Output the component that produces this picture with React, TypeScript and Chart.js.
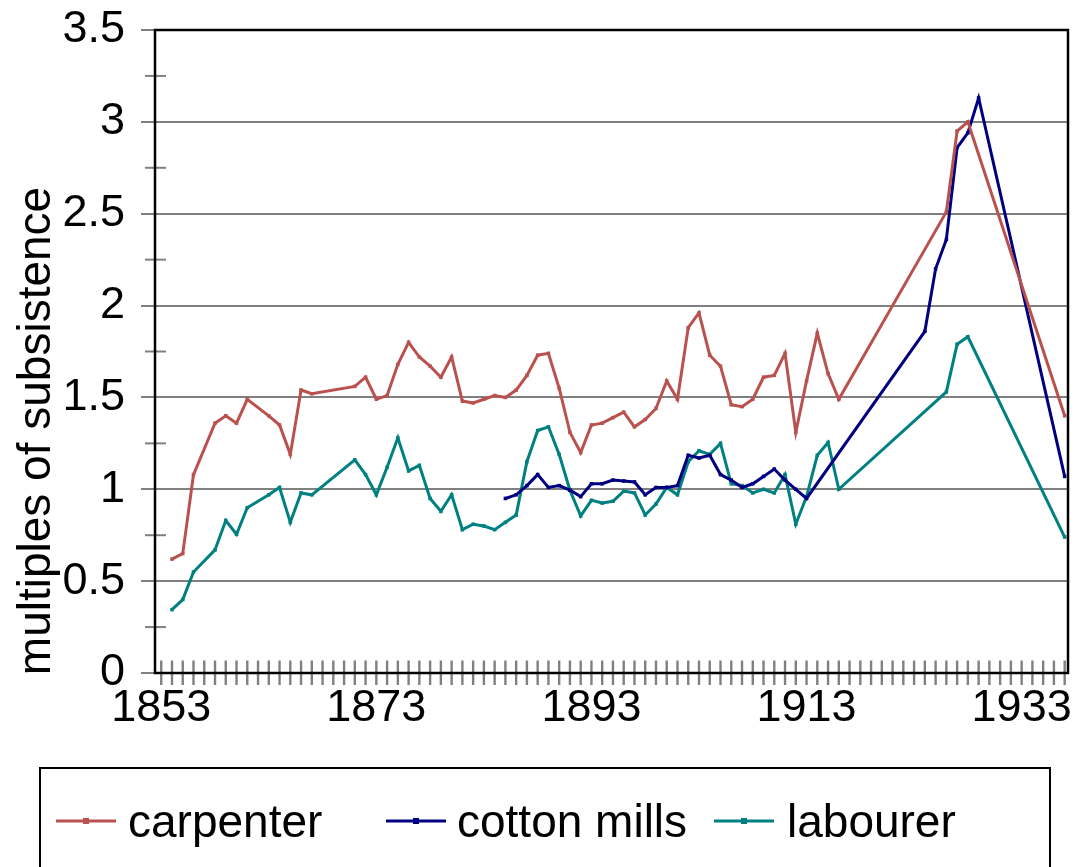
import React, { useEffect, useRef } from 'react';
import { Chart, registerables } from 'chart.js';

Chart.register(...registerables);

const carpenterYears = [1854, 1855, 1856, 1858, 1859, 1860, 1861, 1863, 1864, 1865, 1866, 1867, 1871, 1872, 1873, 1874, 1875, 1876, 1877, 1878, 1879, 1880, 1881, 1882, 1883, 1884, 1885, 1886, 1887, 1888, 1889, 1890, 1891, 1892, 1893, 1894, 1895, 1896, 1897, 1898, 1899, 1900, 1901, 1902, 1903, 1904, 1905, 1906, 1907, 1908, 1909, 1910, 1911, 1912, 1913, 1914, 1915, 1916, 1926, 1927, 1928, 1937];
const carpenterValues = [0.62, 0.65, 1.08, 1.36, 1.40, 1.36, 1.49, 1.40, 1.35, 1.19, 1.54, 1.52, 1.56, 1.61, 1.49, 1.51, 1.68, 1.80, 1.72, 1.67, 1.61, 1.72, 1.48, 1.47, 1.49, 1.51, 1.50, 1.54, 1.62, 1.73, 1.74, 1.55, 1.31, 1.20, 1.35, 1.36, 1.39, 1.42, 1.34, 1.38, 1.44, 1.59, 1.49, 1.88, 1.96, 1.73, 1.67, 1.46, 1.45, 1.49, 1.61, 1.62, 1.74, 1.31, 1.59, 1.85, 1.63, 1.49, 2.51, 2.95, 3.00, 1.40];

const cottonYears = [1885, 1886, 1887, 1888, 1889, 1890, 1891, 1892, 1893, 1894, 1895, 1896, 1897, 1898, 1899, 1900, 1901, 1902, 1903, 1904, 1905, 1906, 1907, 1908, 1909, 1910, 1911, 1912, 1913, 1924, 1925, 1926, 1927, 1928, 1929, 1937];
const cottonValues = [0.95, 0.97, 1.02, 1.08, 1.01, 1.02, 0.995, 0.96, 1.03, 1.03, 1.05, 1.045, 1.04, 0.97, 1.01, 1.01, 1.02, 1.185, 1.17, 1.185, 1.08, 1.05, 1.01, 1.03, 1.07, 1.11, 1.05, 1.00, 0.95, 1.86, 2.20, 2.36, 2.86, 2.94, 3.13, 1.07];

const labourerYears = [1854, 1855, 1856, 1858, 1859, 1860, 1861, 1863, 1864, 1865, 1866, 1867, 1871, 1872, 1873, 1874, 1875, 1876, 1877, 1878, 1879, 1880, 1881, 1882, 1883, 1884, 1885, 1886, 1887, 1888, 1889, 1890, 1891, 1892, 1893, 1894, 1895, 1896, 1897, 1898, 1899, 1900, 1901, 1902, 1903, 1904, 1905, 1906, 1907, 1908, 1909, 1910, 1911, 1912, 1913, 1914, 1915, 1916, 1926, 1927, 1928, 1937];
const labourerValues = [0.345, 0.40, 0.55, 0.67, 0.83, 0.755, 0.90, 0.97, 1.01, 0.82, 0.98, 0.97, 1.16, 1.08, 0.97, 1.12, 1.28, 1.10, 1.13, 0.95, 0.88, 0.97, 0.78, 0.81, 0.80, 0.78, 0.82, 0.86, 1.15, 1.32, 1.34, 1.19, 0.995, 0.855, 0.94, 0.925, 0.935, 0.99, 0.98, 0.86, 0.92, 1.01, 0.97, 1.15, 1.21, 1.19, 1.25, 1.03, 1.02, 0.98, 1.00, 0.98, 1.08, 0.81, 0.96, 1.185, 1.255, 1.00, 1.53, 1.79, 1.83, 0.74];

const seriesNames = ['carpenter', 'cotton mills', 'labourer'];
const seriesColors = ['#B9524F', '#000080', '#008080'];

const firstTickYear = 1853;
const lastTickYear = 1937;
const xLabelYears = [1853, 1873, 1893, 1913, 1933];
const yMinorTicks = [0.25, 0.75, 1.25, 1.75, 2.25, 2.75, 3.25];
const yTitle = 'multiples of subsistence';

const FONT = "'Liberation Sans', Arial, sans-serif";

export default function App() {
  const ref = useRef<HTMLCanvasElement>(null);

  useEffect(() => {
    if (!ref.current) return;
    const toPts = (ys: number[], vs: number[]) => ys.map((x, i) => ({ x, y: vs[i] }));
    const tickYears: number[] = [];
    for (let y = firstTickYear; y <= lastTickYear; y++) tickYears.push(y);

    const decor = {
      id: 'decor',
      beforeDatasetsDraw(chart: any) {
        const ctx = chart.ctx;
        const xs = chart.scales.x;
        const ys = chart.scales.y;
        const a = chart.chartArea;
        ctx.save();
        ctx.strokeStyle = '#808080';
        ctx.lineWidth = 2.4;
        tickYears.forEach((yr) => {
          const px = xs.getPixelForValue(yr);
          ctx.beginPath();
          ctx.moveTo(px, a.bottom - 12.5);
          ctx.lineTo(px, a.bottom + 12);
          ctx.stroke();
        });
        ctx.lineWidth = 2;
        yMinorTicks.forEach((v) => {
          const py = ys.getPixelForValue(v);
          ctx.beginPath();
          ctx.moveTo(a.left - 10, py);
          ctx.lineTo(a.left + 11, py);
          ctx.stroke();
        });
        ctx.restore();
      },
      afterDatasetsDraw(chart: any) {
        const ctx = chart.ctx;
        const a = chart.chartArea;
        ctx.save();
        ctx.strokeStyle = '#000';
        ctx.lineWidth = 2.5;
        ctx.strokeRect(a.left, a.top, a.right - a.left, a.bottom - a.top);
        ctx.restore();
      },
      afterDraw(chart: any) {
        const ctx = chart.ctx;
        ctx.save();
        ctx.translate(50, 431);
        ctx.rotate(-Math.PI / 2);
        ctx.fillStyle = '#000';
        ctx.font = `46px ${FONT}`;
        ctx.textAlign = 'center';
        ctx.textBaseline = 'alphabetic';
        ctx.fillText(yTitle, 0, 0);
        ctx.restore();

        ctx.save();
        ctx.strokeStyle = '#000';
        ctx.lineWidth = 2;
        ctx.strokeRect(40, 768, 1010, 150);
        const lineStarts = [56, 386, 714];
        const textStarts = [128, 457, 787];
        const ly = 821;
        ctx.font = `46px ${FONT}`;
        ctx.textAlign = 'left';
        ctx.textBaseline = 'alphabetic';
        seriesNames.forEach((name, i) => {
          ctx.strokeStyle = seriesColors[i];
          ctx.lineWidth = 3;
          ctx.beginPath();
          ctx.moveTo(lineStarts[i], ly);
          ctx.lineTo(lineStarts[i] + 60, ly);
          ctx.stroke();
          ctx.fillStyle = seriesColors[i];
          ctx.fillRect(lineStarts[i] + 27, ly - 3, 6, 6);
          ctx.fillStyle = '#000';
          ctx.fillText(name, textStarts[i], ly + 16);
        });
        ctx.restore();
      },
    };

    const mk = (i: number, ys: number[], vs: number[]) => ({
      label: seriesNames[i],
      data: toPts(ys, vs),
      borderColor: seriesColors[i],
      backgroundColor: seriesColors[i],
      borderWidth: 3,
      pointStyle: 'rect',
      pointRadius: 2.5,
      pointBorderWidth: 0,
      pointBackgroundColor: seriesColors[i],
      tension: 0,
      fill: false,
    });

    const chart = new Chart(ref.current, {
      type: 'line',
      data: {
        datasets: [
          mk(0, carpenterYears, carpenterValues),
          mk(1, cottonYears, cottonValues),
          mk(2, labourerYears, labourerValues),
        ] as any,
      },
      options: {
        animation: false,
        responsive: false,
        maintainAspectRatio: false,
        events: [],
        layout: { padding: { left: 0, right: 11, top: 30, bottom: 0 } },
        plugins: { legend: { display: false }, tooltip: { enabled: false } },
        scales: {
          x: {
            type: 'linear',
            min: 1852.42,
            max: 1937.31,
            afterBuildTicks: (s: any) => {
              s.ticks = tickYears.map((v) => ({ value: v }));
            },
            afterFit: (s: any) => {
              s.height = 194;
              s.paddingLeft = 0;
              s.paddingRight = 0;
            },
            grid: { display: false, drawTicks: false },
            border: { display: false },
            ticks: {
              autoSkip: false,
              maxRotation: 0,
              minRotation: 0,
              padding: 9,
              color: '#000',
              font: { size: 45, family: FONT },
              callback: (v: any) => (xLabelYears.includes(Number(v)) ? String(v) : ''),
            },
          },
          y: {
            min: 0,
            max: 3.5,
            afterFit: (s: any) => {
              s.width = 155;
              s.paddingTop = 0;
              s.paddingBottom = 0;
            },
            ticks: {
              stepSize: 0.5,
              padding: 16,
              color: '#000',
              font: { size: 45, family: FONT },
              callback: (v: any) => String(Number(v)),
            },
            grid: { color: '#808080', lineWidth: 2, tickLength: 14, drawTicks: true },
            border: { display: false },
          },
        },
      } as any,
      plugins: [decor],
    });
    return () => chart.destroy();
  }, []);

  return (
    <div style={{ position: 'absolute', left: 0, top: 0, width: 1079, height: 867, background: '#fff', overflow: 'hidden' }}>
      <canvas ref={ref} width={1079} height={867} style={{ display: 'block', width: 1079, height: 867 }} />
    </div>
  );
}
